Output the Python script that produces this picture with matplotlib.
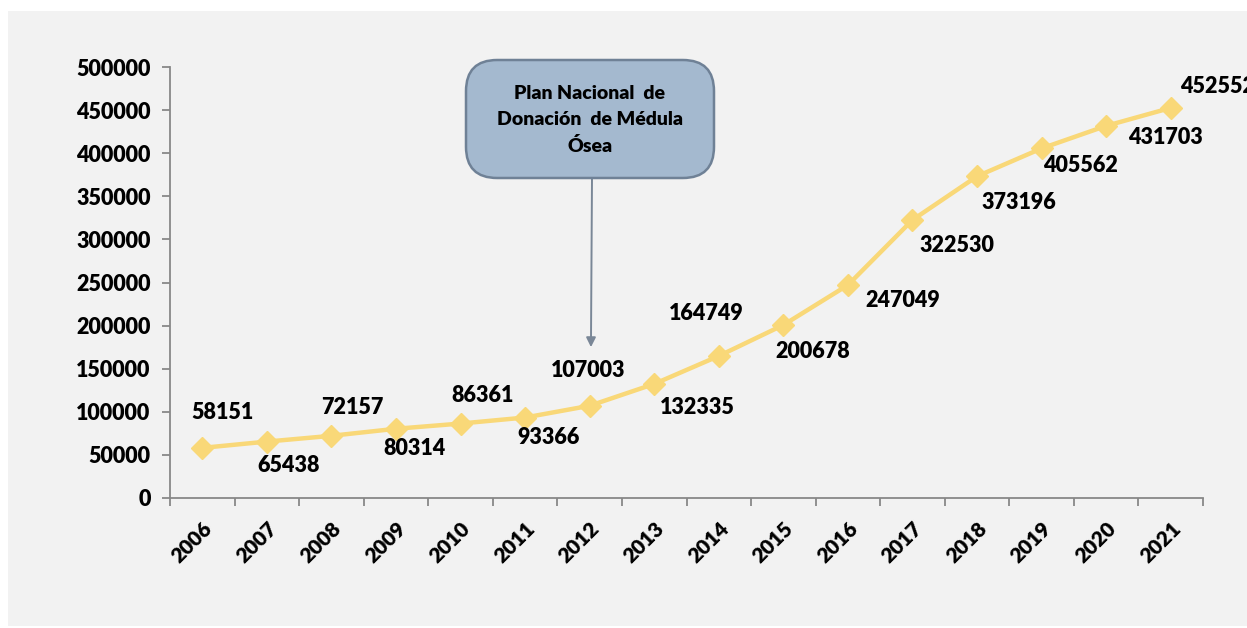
import matplotlib
matplotlib.use("Agg")
import matplotlib.pyplot as plt
from matplotlib.patches import Rectangle, FancyBboxPatch

years = ["2006", "2007", "2008", "2009", "2010", "2011", "2012", "2013",
         "2014", "2015", "2016", "2017", "2018", "2019", "2020", "2021"]
donors = [58151, 65438, 72157, 80314, 86361, 93366, 107003, 132335,
          164749, 200678, 247049, 322530, 373196, 405562, 431703, 452552]
yticks = [0, 50000, 100000, 150000, 200000, 250000, 300000, 350000, 400000, 450000, 500000]
note_text = "Plan Nacional  de\nDonación  de Médula\nÓsea"

# label offsets in pixels (dx, dy) relative to each point (style only)
label_offsets = [(20, 35), (22, -24), (21, 28), (19, -20), (22, 28), (23, -20),
                 (-1, 35), (43, -24), (-12, 42), (29, -26), (55, -15), (44, -26),
                 (42, -26), (39, -17), (59, -12), (47, 21)]

W, H = 1247, 628
DPI = 100
FONT = ["Lato", "DejaVu Sans"]
plt.rcParams["font.family"] = FONT
WEIGHT = "heavy"

fig = plt.figure(figsize=(W / DPI, H / DPI), dpi=DPI, facecolor="white")
bg = "#f2f2f2"
fig.patches.append(Rectangle((8 / W, 2 / H), (W - 8) / W, 615 / H,
                             transform=fig.transFigure, facecolor=bg,
                             edgecolor="none", zorder=-5))

ax = fig.add_axes([170 / W, (H - 498) / H, (1203 - 170) / W, (498 - 67) / H])
ax.set_facecolor(bg)

x = list(range(len(years)))
ax.plot(x, donors, color="#f9d878", lw=3.2, marker="D", markersize=11,
        markerfacecolor="#f9d878", markeredgecolor="#f9d878", zorder=3, clip_on=False)

for xi, v, (dx, dy) in zip(x, donors, label_offsets):
    ax.annotate(str(v), (xi, v), xytext=(dx * 72 / DPI, dy * 72 / DPI),
                textcoords="offset points", ha="center", va="center",
                fontsize=15.5, fontweight=WEIGHT, color="black",
                annotation_clip=False)

ax.set_xlim(-0.5, len(years) - 0.5)
ax.set_ylim(0, 500000)
ax.set_yticks(yticks)
ax.set_yticklabels([str(t) for t in yticks], fontsize=15.5, fontweight=WEIGHT)
ax.set_xticks([i - 0.5 for i in range(len(years) + 1)], minor=False)
ax.set_xticklabels([])
ax.set_xticks(x, minor=True)
ax.set_xticklabels(years, minor=True, rotation=45, ha="right", va="top",
                   rotation_mode="anchor", fontsize=15, fontweight=WEIGHT)
ax.tick_params(axis="x", which="minor", length=0, pad=15)
ax.tick_params(axis="x", which="major", length=6, width=1.3, color="#888888", direction="out")
ax.tick_params(axis="y", length=6, width=1.3, color="#888888", direction="out", pad=8)

for s in ["top", "right"]:
    ax.spines[s].set_visible(False)
for s in ["left", "bottom"]:
    ax.spines[s].set_color("#888888")
    ax.spines[s].set_linewidth(1.3)

# annotation box
bx0, by0, bx1, by1 = 466, 60, 714, 178
fig.patches.append(FancyBboxPatch((bx0 / W, (H - by1) / H), (bx1 - bx0) / W, (by1 - by0) / H,
                                  boxstyle="round,pad=0,rounding_size=0.025",
                                  transform=fig.transFigure, facecolor="#a4b9cf",
                                  edgecolor="#6f8196", linewidth=1.8, zorder=5,
                                  mutation_aspect=W / H))
fig.text((bx0 + bx1) / 2 / W, (H - (by0 + by1) / 2 - 1) / H, note_text,
         ha="center", va="center", fontsize=14, fontweight=WEIGHT,
         linespacing=1.6, zorder=6)

ax.annotate("", xy=(6.02, 175000), xytext=(592 / W, (H - 178) / H),
            textcoords="figure fraction",
            arrowprops=dict(arrowstyle="-|>", color="#7a8797", lw=1.4,
                            mutation_scale=14, shrinkA=0, shrinkB=0),
            annotation_clip=False, zorder=4)

fig.savefig("out.png", dpi=DPI, facecolor="white")
